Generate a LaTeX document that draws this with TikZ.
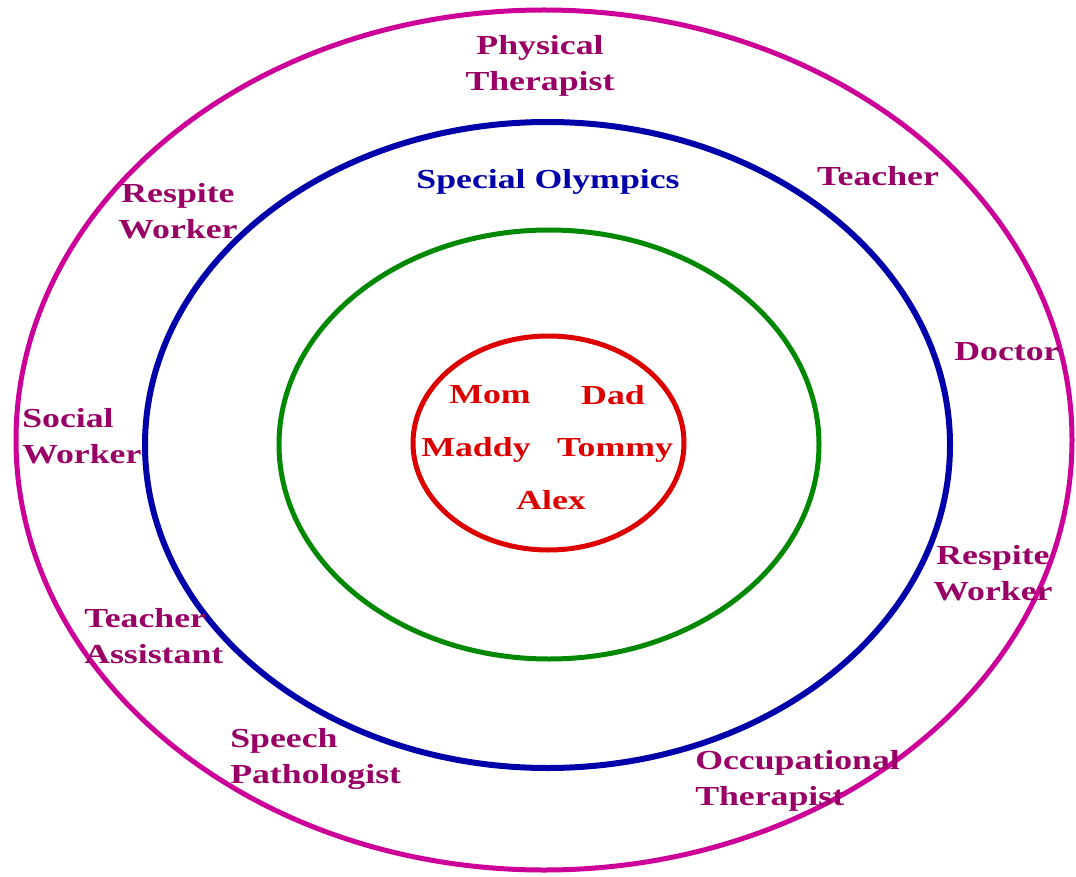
\documentclass[tikz,border=0pt]{standalone}
\usepackage{fontspec}
\setmainfont{Liberation Serif}
\definecolor{ringM}{HTML}{CC0099}
\definecolor{txtM}{HTML}{990066}
\definecolor{ringB}{HTML}{0000AA}
\definecolor{ringG}{HTML}{008800}
\definecolor{ringR}{HTML}{DD0000}
\begin{document}
\begin{tikzpicture}[x=1pt,y=-1pt,
  lbl/.style={font=\fontsize{27.5}{36}\selectfont\bfseries, inner sep=0pt, xscale=1.3, transform shape},
  pro/.style={lbl, text=txtM},
  fam/.style={lbl, text=ringR},
  ring/.style={line width=5pt}]
\useasboundingbox (0,0) rectangle (1076,877);
\fill[white] (0,0) rectangle (1076,877);
\draw[ring, ringM] (544,440) ellipse [x radius=528, y radius=430];
\draw[ring, ringB, line width=6pt] (547.5,445) ellipse [x radius=402.5, y radius=323];
\draw[ring, ringG] (549,444.5) ellipse [x radius=270, y radius=214.5];
\draw[ring, ringR] (548.5,443) ellipse [x radius=135.5, y radius=107];
% family
\node[fam] (mom) at (490,395) {Mom};
\node[fam] (dad) at (613,395) {Dad};
\node[fam] (maddy) at (476,450) {Maddy};
\node[fam] (tommy) at (615,450) {Tommy};
\node[fam] (alex) at (551,500) {Alex};
% blue ring
\node[lbl, text=ringB] (so) at (548,182) {Special Olympics};
% professionals
\node[pro, align=center] (pt) at (540,66) {Physical\\Therapist};
\node[pro] (teacher) at (878,176) {Teacher};
\node[pro, align=center] (rw1) at (178,211) {Respite\\Worker};
\node[pro] (doctor) at (1007,352) {Doctor};
\node[pro, align=left, anchor=west] (sw) at (22,436) {Social\\Worker};
\node[pro, align=center] (rw2) at (993,573) {Respite\\Worker};
\node[pro, align=left, anchor=west] (ta) at (84,636) {Teacher\\Assistant};
\node[pro, align=left, anchor=west] (sp) at (230,759) {Speech\\Pathologist};
\node[pro, align=left, anchor=west] (ot) at (695,781) {Occupational\\Therapist};
\end{tikzpicture}
\end{document}
